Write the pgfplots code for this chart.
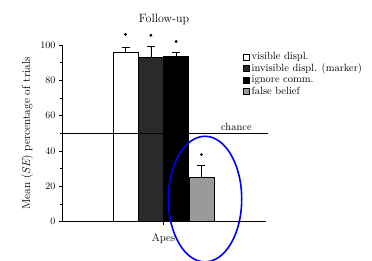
\documentclass[border=0pt]{standalone}
\usepackage{pgfplots}
\pgfplotsset{compat=1.18}
\definecolor{dkbar}{HTML}{2A2A2A}
\definecolor{gybar}{HTML}{9A9A9A}
\begin{document}
\begin{tikzpicture}
\path[use as bounding box, fill=white] (0,0) rectangle (372pt,261pt);
\begin{axis}[
  at={(62pt,39.3pt)}, anchor=south west,
  scale only axis, width=204pt, height=176.7pt,
  xmin=-2.51, xmax=5.55, ymin=0, ymax=100,
  axis x line=bottom, axis y line=left,
  axis line style={-, line width=0.6pt},
  xtick={1.5}, xticklabels={Apes},
  ytick={0,20,40,60,80,100}, minor ytick={10,30,50,70,90},
  tick align=outside, tick style={black, line width=0.6pt},
  major tick length=3pt, minor tick length=2pt,
  tick label style={font=\fontsize{10}{11}\selectfont},
  xticklabel style={font=\fontsize{11}{12}\selectfont, yshift=-5pt},
  ylabel={Mean (\textit{SE}) percentage of trials},
  ylabel style={font=\fontsize{11.5}{12}\selectfont, at={(-0.125,0.5)}},
  title={Follow-up},
  title style={font=\fontsize{12}{13}\selectfont, at={(0.5,1.06)}},
  ybar, bar width=25.3pt, bar shift=0pt,
  clip=false,
  legend style={draw=none, fill=none, at={(0.882,0.975)}, anchor=north west,
    font=\fontsize{10.5}{10}\selectfont, row sep=-1.5pt, inner sep=1pt,
    legend cell align=left},
  legend image code/.code={\draw[#1, draw=black, line width=0.5pt] (0pt,-3pt) rectangle (6pt,3pt);},
]
\addplot[fill=white, draw=black, line width=0.6pt,
  error bars/.cd, y dir=plus, y explicit, error bar style={line width=0.6pt}, error mark options={rotate=90, mark size=4pt, line width=0.6pt}]
  coordinates {(0,95.9) +- (0,2.6)};
\addlegendentry{visible displ.}
\addplot[fill=dkbar, draw=black, line width=0.6pt,
  error bars/.cd, y dir=plus, y explicit, error bar style={line width=0.6pt}, error mark options={rotate=90, mark size=4pt, line width=0.6pt}]
  coordinates {(1,92.8) +- (0,6.2)};
\addlegendentry{invisible displ. (marker)}
\addplot[fill=black, draw=black, line width=0.6pt,
  error bars/.cd, y dir=plus, y explicit, error bar style={line width=0.6pt}, error mark options={rotate=90, mark size=4pt, line width=0.6pt}]
  coordinates {(2,93.6) +- (0,2.4)};
\addlegendentry{ignore comm.}
\addplot[fill=gybar, draw=black, line width=0.6pt,
  error bars/.cd, y dir=plus, y explicit, error bar style={line width=0.6pt}, error mark options={rotate=90, mark size=4pt, line width=0.6pt}]
  coordinates {(3,24.9) +- (0,6.8)};
\addlegendentry{false belief}
% significance dots
\addplot[only marks, mark=*, mark size=1.2pt, black, forget plot]
  coordinates {(0,106) (1,105.5) (2,102) (3,38)};
% chance line
\addplot[sharp plot, black, line width=0.6pt, forget plot]
  coordinates {(-2.51,50.2) (5.63,50.2)};
\node[anchor=south, font=\fontsize{10.5}{11}\selectfont, inner sep=1pt] at (axis cs:4.38,51) {chance};
\draw[blue, line width=1.6pt] (axis cs:3.14,12.8) ellipse [x radius=36.7pt, y radius=62.8pt];
\end{axis}
\end{tikzpicture}
\end{document}
